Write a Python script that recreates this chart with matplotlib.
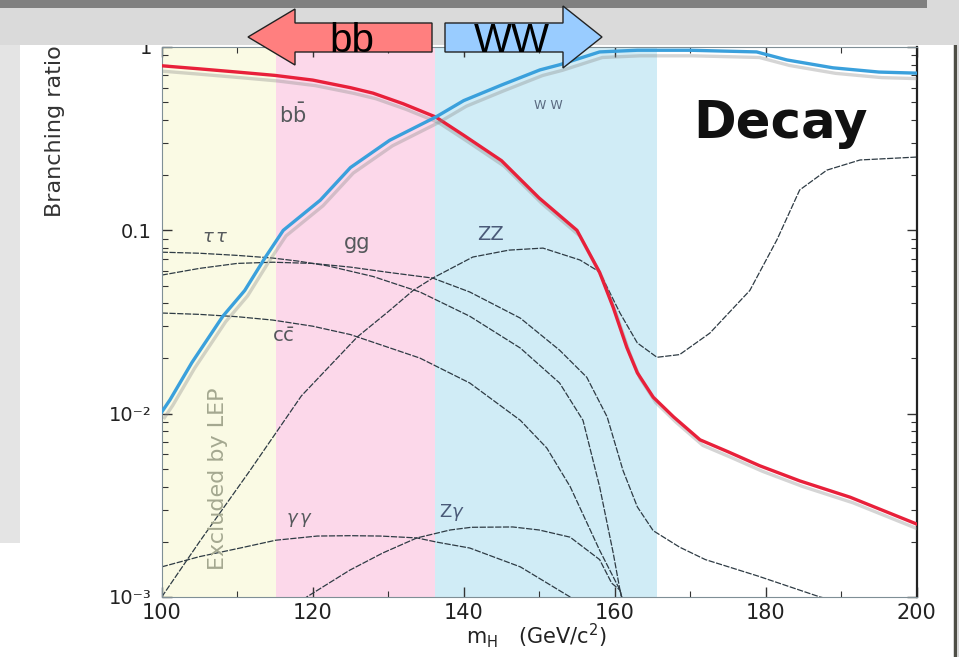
import matplotlib
matplotlib.use("Agg")
import matplotlib.pyplot as plt
import matplotlib.patheffects as pe
from matplotlib.patches import Rectangle, Polygon
from matplotlib.ticker import NullFormatter

# m_H (GeV) and branching ratio
m_bb = [100, 105, 110, 115, 120, 125, 128, 132, 136.3, 140, 145, 150, 155, 158,
        159.8, 161.6, 163, 165.1, 167.8, 171.3, 175, 179.2, 184.5, 191.2, 200]
br_bb = [0.79, 0.76, 0.73, 0.70, 0.66, 0.60, 0.56, 0.49, 0.415, 0.33, 0.24, 0.15,
         0.10, 0.059, 0.038, 0.023, 0.0167, 0.0123, 0.0096, 0.0072, 0.0062,
         0.0052, 0.0043, 0.0035, 0.0025]

m_ww = [100, 101.1, 104, 108.1, 111, 113.7, 116.1, 121, 125, 130.2, 136.3, 140,
        145, 150.1, 152.7, 158, 163, 170, 178.8, 182.8, 188.9, 195, 200]
br_ww = [0.0102, 0.0119, 0.019, 0.034, 0.047, 0.071, 0.10, 0.146, 0.22, 0.31,
         0.415, 0.51, 0.62, 0.75, 0.80, 0.94, 0.96, 0.96, 0.94, 0.85, 0.77, 0.73, 0.72]

m_zz = [100, 105, 111.7, 118.5, 125.9, 130, 133.3, 135.9, 141.2, 146, 150.5, 155.4,
        158, 160.7, 163, 165.6, 168.6, 172.6, 177.9, 181.5, 184.5, 188.1, 192.5, 200]
br_zz = [0.0010, 0.0020, 0.0049, 0.0125, 0.0262, 0.036, 0.047, 0.0549, 0.0715,
         0.078, 0.080, 0.0689, 0.0593, 0.0354, 0.0243, 0.0203, 0.021, 0.0275,
         0.047, 0.089, 0.166, 0.213, 0.242, 0.251]

m_gg = [100, 105, 110, 114.7, 120, 125, 130, 135.9, 140.8, 147.5, 152.7, 156.3,
        159, 161.1, 163, 165.1, 168.6, 172, 179, 187.2, 192]
br_gg = [0.057, 0.062, 0.066, 0.067, 0.066, 0.063, 0.059, 0.0549, 0.0461, 0.0332,
         0.0222, 0.0158, 0.0096, 0.0049, 0.0031, 0.0023, 0.00187, 0.0016, 0.0013,
         0.0010, 0.0009]

m_tt = [100, 105, 110, 114.7, 118, 122, 128, 134.2, 140.8, 147.5, 152.7, 155.8,
        158, 159.8, 160.7, 161.5]
br_tt = [0.076, 0.075, 0.073, 0.0706, 0.068, 0.064, 0.056, 0.0461, 0.034, 0.0228,
         0.0147, 0.0092, 0.0040, 0.00174, 0.00109, 0.0008]

m_cc = [100, 105, 110, 114.7, 120, 125, 130, 134.2, 140.8, 147.5, 151, 154.1, 158,
        160.7, 161.5]
br_cc = [0.0354, 0.0348, 0.0338, 0.0324, 0.030, 0.027, 0.023, 0.0201, 0.0147,
         0.0092, 0.0065, 0.0040, 0.0018, 0.00109, 0.0008]

m_aa = [100, 105, 110.4, 115.1, 120.6, 125, 129, 133.8, 136.5, 140.8, 147.5, 154.1, 158]
br_aa = [0.00146, 0.00166, 0.00185, 0.00204, 0.00215, 0.00216, 0.00215, 0.0021,
         0.00199, 0.00185, 0.00146, 0.0010, 0.0007]

m_za = [118, 119.2, 124.9, 129.3, 133.8, 138.2, 141, 146.5, 150, 154.1, 158, 159.6,
        160.7, 161.5]
br_za = [0.0009, 0.0010, 0.0014, 0.00174, 0.0021, 0.00232, 0.0024, 0.00241,
         0.00232, 0.00212, 0.0016, 0.00119, 0.00109, 0.0008]

# shaded mass bands
lep_limit = 115.2
bb_end = 136.2
ww_end = 165.6

W, H = 959, 657


def px(x, y):
    return x / W, 1 - y / H


fig = plt.figure(figsize=(W / 100, H / 100), dpi=100, facecolor="white")
ax = fig.add_axes([161.7 / W, 1 - 597 / H, 755 / W, 550 / H])

ax.axvspan(100, lep_limit, color="#fafae4", lw=0, zorder=0)
ax.axvspan(lep_limit, bb_end, color="#fcd8ea", lw=0, zorder=0)
ax.axvspan(bb_end, ww_end, color="#d0ecf6", lw=0, zorder=0)

thin = dict(color="#2e3b44", lw=0.9, ls=(0, (5, 1.2)), zorder=2)
for mm, bb in [(m_zz, br_zz), (m_gg, br_gg), (m_tt, br_tt), (m_cc, br_cc),
               (m_aa, br_aa), (m_za, br_za)]:
    ax.plot(mm, bb, **thin)

shadow = [pe.SimpleLineShadow(offset=(2, -4), shadow_color="#888888", alpha=0.35),
          pe.Normal()]
ax.plot(m_bb, br_bb, color="#e8203a", lw=2.4, zorder=3, path_effects=shadow)
ax.plot(m_ww, br_ww, color="#3aa0dc", lw=2.4, zorder=3, path_effects=shadow)

ax.set_xlim(100, 200)
ax.set_yscale("log")
ax.set_ylim(1e-3, 1)
ax.set_xticks([100, 120, 140, 160, 180, 200])
ax.set_xticks([110, 130, 150, 170, 190], minor=True)
ax.set_yticks([1e-3, 1e-2, 0.1, 1])
ax.set_yticklabels(["10\u207b\u00b3", "10\u207b\u00b2", "0.1", "1"])
ax.yaxis.set_minor_formatter(NullFormatter())
ax.tick_params(which="both", direction="in", top=True, right=True, colors="#333333")
ax.tick_params(which="major", length=7, width=1)
ax.tick_params(which="minor", length=4, width=0.8)
ax.tick_params(axis="x", labelsize=15, pad=4, labelcolor="#222222")
ax.tick_params(axis="y", labelsize=14, pad=7, labelcolor="#222222")
for s in ["left", "bottom", "top"]:
    ax.spines[s].set_color("#7f8f96")
ax.spines["right"].set_color("#222222")
ax.spines["right"].set_linewidth(1.6)

# labels inside the plot
lab = dict(color="#55595c", ha="center", va="center", zorder=4)
ax.text(117.3, 0.425, r"b$\bar{\rm b}$", fontsize=15, **lab)
ax.text(151.2, 0.48, "W W", fontsize=9, color="#5a6a80", ha="center", va="center")
ax.text(107.1, 0.092, r"$\tau\,\tau$", fontsize=13, **lab)
ax.text(125.9, 0.085, "gg", fontsize=15, **lab)
ax.text(143.5, 0.095, "ZZ", fontsize=14, color="#4a5a78", ha="center", va="center")
ax.text(116.1, 0.0263, r"c$\bar{\rm c}$", fontsize=14, **lab)
ax.text(118.3, 0.00263, r"$\gamma\,\gamma$", fontsize=13, **lab)
ax.text(138.4, 0.0029, r"Z$\gamma$", fontsize=13, color="#4a5a78", ha="center", va="center")
ax.text(107.5, 0.0044, "Excluded by LEP", fontsize=16, rotation=90, color="#a4a890",
        ha="center", va="center")
ax.text(182.0, 0.319, "Decay", fontsize=37, fontweight="bold", color="#111111",
        ha="center", va="baseline")

fig.text(*px(536, 636), r"m$_{\rm H}$   (GeV/c$^{2}$)", fontsize=15, color="#222222",
         ha="center", va="center")
fig.text(*px(55, 217), "Branching ratio", fontsize=16, rotation=90, rotation_mode="anchor",
         ha="left", va="center", color="#333333")

# slide background around the pasted picture
def box(x0, y0, x1, y1, color, z=10):
    fig.add_artist(Rectangle(px(x0, y1), (x1 - x0) / W, (y1 - y0) / H,
                             transform=fig.transFigure, color=color, lw=0, zorder=z))


box(0, 0, W, 45, "#dadada")
box(0, 0, 927, 7.5, "#808080")
box(0, 45, 20, 543, "#e4e4e4")
box(953, 45, W, H, "#d6d6d6")
box(954, 45, 957, H, "#4e4e46", z=11)

# bb / WW arrows
red = [(248, 37), (295, 9), (295, 23), (432, 23), (432, 52), (295, 52), (295, 65)]
blue = [(445, 23), (563, 23), (563, 6), (602, 37), (563, 68), (563, 52), (445, 52)]
fig.add_artist(Polygon([px(*p) for p in red], closed=True, transform=fig.transFigure,
                       facecolor="#ff7f7f", edgecolor="#222222", lw=1, zorder=20))
fig.add_artist(Polygon([px(*p) for p in blue], closed=True, transform=fig.transFigure,
                       facecolor="#99ccff", edgecolor="#222222", lw=1, zorder=20))
fig.text(*px(352, 52), "bb", fontsize=29, ha="center", va="baseline",
         family="Liberation Sans", zorder=21)
fig.text(*px(512, 52), "WW", fontsize=29, ha="center", va="baseline",
         family="Liberation Sans", zorder=21)

fig.savefig("out.png", dpi=100, facecolor=fig.get_facecolor())
